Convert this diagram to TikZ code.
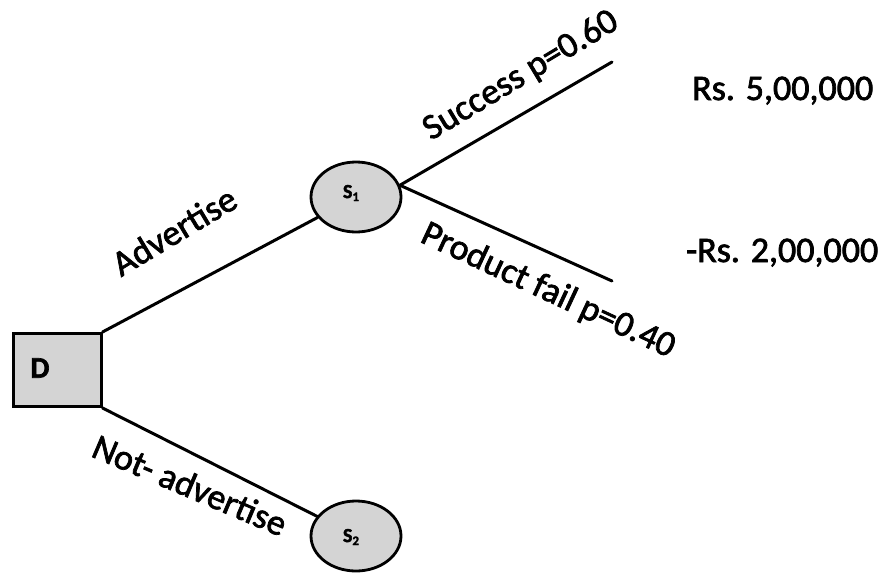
\documentclass[tikz,border=0pt]{standalone}
\usepackage{fontspec}
\setmainfont{Carlito}[FakeBold=2]
\usetikzlibrary{shapes.geometric}
\begin{document}
\begin{tikzpicture}[x=1pt,y=-1pt,
  branch/.style={line width=3pt, line cap=round},
  decision/.style={draw, line width=3pt, fill=black!17, rectangle,
    minimum width=88pt, minimum height=73pt, inner sep=0pt},
  chance/.style={draw, line width=2.8pt, fill=black!17, ellipse,
    minimum width=90pt, minimum height=70pt, inner sep=0pt},
  lbl/.style={font=\fontsize{36}{40}\selectfont, inner sep=0pt},
  payoff/.style={font=\fontsize{36}{40}\selectfont, inner sep=0pt, anchor=base west},
  sub/.style={font=\fontsize{20}{20}\selectfont\bfseries, inner sep=0pt}]
\useasboundingbox (0,0) rectangle (882,573);

% decision and chance nodes
\node[decision] (D) at (57,370) {};
\node[font=\fontsize{30}{30}\selectfont\bfseries] (Dl) at (40,368) {D};
\node[chance] (s1) at (356,197) {};
\node[sub] (s1l) at (351,193) {S\raisebox{-3pt}{\fontsize{13}{13}\selectfont 1}};
\node[chance] (s2) at (356,536) {};
\node[sub] (s2l) at (351,537) {S\raisebox{-3pt}{\fontsize{13}{13}\selectfont 2}};

% outcome ends
\coordinate (fork) at (s1.15);
\coordinate (succ) at (612,62);
\coordinate (fail) at (612,281);

% branches
\draw[branch] (D.north east) -- (s1);
\draw[branch] (D.south east) -- (s2);
\draw[branch] (fork) -- (succ);
\draw[branch] (fork) -- (fail);

% branch labels
\node[lbl, rotate=31] (adv) at (174,231) {Advertise};
\node[lbl, rotate=-23] (nadv) at (190,485) {Not- advertise};
\node[lbl, rotate=31] (sl) at (521,76) {Success p=0.60};
\node[lbl, rotate=-25] (fl) at (548,291) {Product fail p=0.40};

% payoffs
\node[payoff] (p1) at (692,100) {Rs. 5,00,000};
\node[payoff] (p2) at (686,262) {-Rs. 2,00,000};
\end{tikzpicture}
\end{document}
